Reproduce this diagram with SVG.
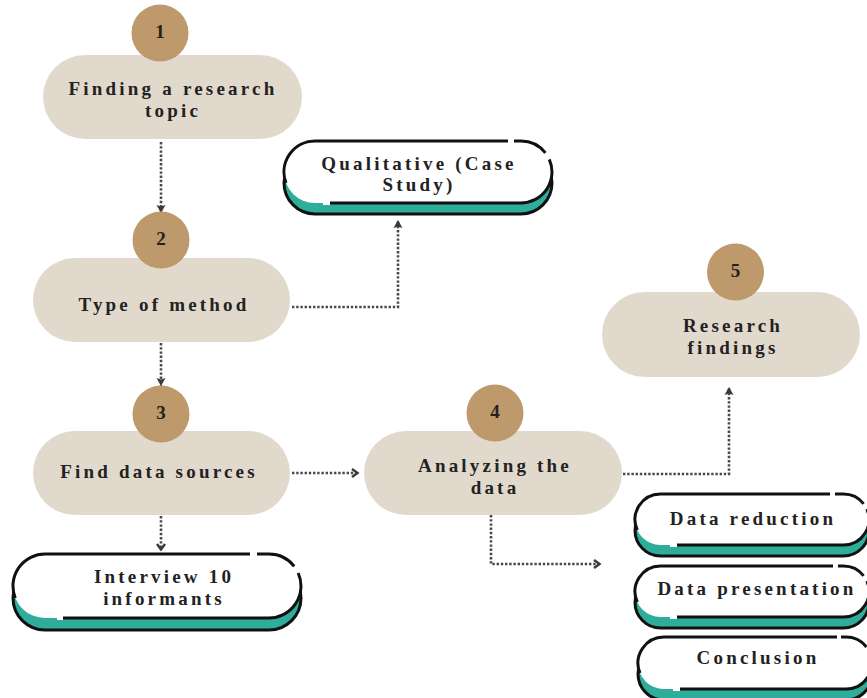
<svg xmlns="http://www.w3.org/2000/svg" width="867" height="698" viewBox="0 0 867 698">
<defs>
<style>
.pill{fill:#E2D9CD;}
.num{fill:#BD996B;}
.t{font-family:"Liberation Serif",serif;font-weight:bold;font-size:19px;letter-spacing:3.2px;fill:#222;text-anchor:middle;}
.n{font-family:"Liberation Serif",serif;font-weight:bold;font-size:19px;fill:#222;text-anchor:middle;}
.teal{fill:#2EAD9B;stroke:#111;stroke-width:3;}
.wf{fill:#fff;}
.ol{fill:none;stroke:#111;stroke-width:3;stroke-linecap:butt;}
.gap{fill:#fff;}
.c{fill:none;stroke:#4a4a4a;stroke-width:2.6;stroke-dasharray:2.4 1.8;}
</style>
<marker id="tri" markerUnits="userSpaceOnUse" markerWidth="9" markerHeight="10" refX="8" refY="5" orient="auto">
<path d="M0,0.5 L8,5 L0,9.5 L1.5,5 Z" fill="#3a3a3a"/>
</marker>
<marker id="chev" markerUnits="userSpaceOnUse" markerWidth="9" markerHeight="10" refX="7" refY="5" orient="auto">
<path d="M1,1 L6.5,5 L1,9" fill="none" stroke="#3a3a3a" stroke-width="2.4"/>
</marker>
</defs>

<g id="connectors">
<path class="c" d="M161,142 V213" marker-end="url(#tri)"/>
<path class="c" d="M161,343 V386" marker-end="url(#tri)"/>
<path class="c" d="M292,307 H398 V220" marker-end="url(#tri)"/>
<path class="c" d="M292,473 H358" marker-end="url(#chev)"/>
<path class="c" d="M161,516 V550" marker-end="url(#chev)"/>
<path class="c" d="M491,515 V564 H600" marker-end="url(#chev)"/>
<path class="c" d="M623,474 H729 V387" marker-end="url(#tri)"/>
</g>

<g id="node1">
<rect class="pill" x="43" y="55" width="259" height="84" rx="42"/>
<circle class="num" cx="160" cy="33" r="28.5"/>
<text class="n" x="160" y="38">1</text>
<text class="t" x="173" y="95">Finding a research</text>
<text class="t" x="173" y="117">topic</text>
</g>

<g id="node2">
<rect class="pill" x="33" y="258" width="257" height="84" rx="42"/>
<circle class="num" cx="161" cy="240" r="28.5"/>
<text class="n" x="161" y="245">2</text>
<text class="t" x="164" y="311">Type of method</text>
</g>

<g id="node3">
<rect class="pill" x="33" y="431" width="257" height="84" rx="42"/>
<circle class="num" cx="161" cy="414" r="28.5"/>
<text class="n" x="161" y="419">3</text>
<text class="t" x="159" y="478">Find data sources</text>
</g>

<g id="node4">
<rect class="pill" x="364" y="431" width="258" height="84" rx="42"/>
<circle class="num" cx="495" cy="413" r="28.5"/>
<text class="n" x="495" y="418">4</text>
<text class="t" x="495" y="472">Analyzing the</text>
<text class="t" x="495" y="494">data</text>
</g>

<g id="node5">
<rect class="pill" x="602" y="292" width="258" height="85" rx="42.5"/>
<circle class="num" cx="735.5" cy="272" r="28.5"/>
<text class="n" x="735.5" y="277">5</text>
<text class="t" x="733" y="332">Research</text>
<text class="t" x="733" y="354">findings</text>
</g>

<g id="qualitative">
<rect class="teal" x="284" y="152" width="268" height="62" rx="31"/>
<rect class="wf" x="284" y="141" width="268" height="62" rx="31"/>
<path class="ol" d="M286,183 A31,31 0 0 1 315,141 H508 M514,141 H521 A31,31 0 0 1 545.4,152.9 M549.3,159.4 A31,31 0 0 1 521,203 H330"/>
<rect class="gap" x="323" y="200" width="7" height="5"/>
<text class="t" x="419" y="170">Qualitative (Case</text>
<text class="t" x="419" y="191">Study)</text>
</g>

<g id="interview">
<rect class="teal" x="13" y="566" width="288" height="64" rx="32"/>
<rect class="wf" x="13" y="554" width="288" height="64" rx="32"/>
<path class="ol" d="M15.3,598 A32,32 0 0 1 45,554 H250 M257,554 H269 A32,32 0 0 1 294.2,566.3 M298.2,573 A32,32 0 0 1 269,618 H63"/>
<rect class="gap" x="57" y="615" width="6" height="5"/>
<text class="t" x="164" y="583">Interview 10</text>
<text class="t" x="164" y="605">informants</text>
</g>

<g id="data-reduction">
<rect class="teal" x="635" y="505" width="234" height="51" rx="25.5"/>
<rect class="wf" x="635" y="494" width="234" height="51" rx="25.5"/>
<path class="ol" d="M637.3,530 A25.5,25.5 0 0 1 660.5,494 H830 M835,494 H843.5 A25.5,25.5 0 0 1 863.6,503.8 M866.8,509.1 A25.5,25.5 0 0 1 843.5,545 H677"/>
<rect class="gap" x="670" y="542" width="7" height="5"/>
<text class="t" x="753" y="525">Data reduction</text>
</g>

<g id="data-presentation">
<rect class="teal" x="635" y="577" width="234" height="51" rx="25.5"/>
<rect class="wf" x="635" y="566" width="234" height="51" rx="25.5"/>
<path class="ol" d="M637.3,602 A25.5,25.5 0 0 1 660.5,566 H833 M838,566 H843.5 A25.5,25.5 0 0 1 863.6,575.8 M866.8,581.1 A25.5,25.5 0 0 1 843.5,617 H677"/>
<rect class="gap" x="670" y="614" width="7" height="5"/>
<text class="t" x="757" y="595">Data presentation</text>
</g>

<g id="conclusion">
<rect class="teal" x="638" y="648" width="234" height="52" rx="26"/>
<rect class="wf" x="638" y="637" width="234" height="52" rx="26"/>
<path class="ol" d="M640,673 A26,26 0 0 1 664,637 H837 M841,637 H846 A26,26 0 0 1 866.5,647 M869.8,652.4 A26,26 0 0 1 846,689 H680"/>
<rect class="gap" x="673" y="686" width="7" height="5"/>
<text class="t" x="758" y="664">Conclusion</text>
</g>
</svg>
